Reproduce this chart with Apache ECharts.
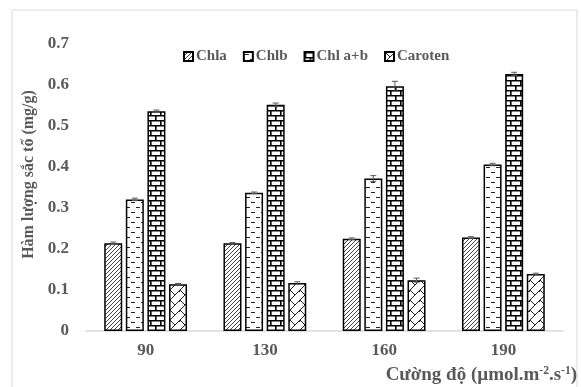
<!DOCTYPE html>
<html>
<head>
<meta charset="utf-8">
<script src="https://cdn.jsdelivr.net/npm/echarts@6/dist/echarts.min.js"></script>
<style>
html,body{margin:0;padding:0;background:#fff;}
#c{width:581px;height:387px;}
</style>
</head>
<body>
<div id="c"></div>
<script>
const categories = ['90', '130', '160', '190'];
const seriesNames = ['Chla', 'Chlb', 'Chl a+b', 'Caroten'];
const chla = [0.214, 0.214, 0.225, 0.228];
const chlb = [0.321, 0.337, 0.372, 0.406];
const chlab = [0.536, 0.552, 0.597, 0.627];
const caroten = [0.114, 0.117, 0.124, 0.139];
const errChla = [0.003, 0.002, 0.002, 0.002];
const errChlb = [0.003, 0.002, 0.007, 0.003];
const errChlab = [0.003, 0.004, 0.012, 0.004];
const errCaroten = [0.002, 0.003, 0.005, 0.002];

function mk(w, h, draw) {
  const c = document.createElement('canvas');
  c.width = w; c.height = h;
  const g = c.getContext('2d');
  g.fillStyle = '#fff'; g.fillRect(0, 0, w, h);
  g.strokeStyle = '#222'; g.lineWidth = 1;
  draw(g);
  return c;
}
const patDiag = mk(4, 4, g => {
  g.strokeStyle = '#444';
  g.beginPath();
  g.moveTo(-1, 5); g.lineTo(5, -1);
  g.moveTo(-1, 1); g.lineTo(1, -1);
  g.moveTo(3, 5); g.lineTo(5, 3);
  g.stroke();
});
const patDash = mk(10, 10, g => {
  g.strokeStyle = '#222';
  g.beginPath();
  g.moveTo(1, 2.5); g.lineTo(5, 2.5);
  g.moveTo(6, 7.5); g.lineTo(10, 7.5);
  g.stroke();
});
const patBrick = mk(10, 10, g => {
  g.strokeStyle = '#000'; g.lineWidth = 1.6;
  g.beginPath();
  g.moveTo(0, 0.8); g.lineTo(10, 0.8);
  g.moveTo(0, 5.8); g.lineTo(10, 5.8);
  g.moveTo(0.8, 0); g.lineTo(0.8, 5.8);
  g.moveTo(5.8, 5.8); g.lineTo(5.8, 10);
  g.stroke();
});
const patWeave = mk(10, 10, g => {
  g.strokeStyle = '#222'; g.lineWidth = 1;
  g.beginPath();
  g.moveTo(-1, 11); g.lineTo(11, -1);
  g.moveTo(0, 0); g.lineTo(5, 5);
  g.moveTo(9, 1); g.lineTo(10, 2);
  g.stroke();
});
const pats = [patDiag, patDash, patBrick, patWeave];
const vals = [chla, chlb, chlab, caroten];
const errs = [errChla, errChlb, errChlab, errCaroten];

const BW = 18, GAP = 0.2;
const FONT = 'Liberation Serif';
const GRAY = '#595959';

const barSeries = seriesNames.map((n, i) => ({
  name: n, type: 'bar', data: vals[i], barWidth: BW, barGap: (GAP*100)+'%',
  itemStyle: { color: { image: pats[i], repeat: 'repeat' }, borderColor: '#000', borderWidth: 1.5 },
  emphasis: { disabled: true }
}));

const errData = [];
for (let s = 0; s < 4; s++) for (let c = 0; c < 4; c++) errData.push([c, vals[s][c], errs[s][c], s]);

const errSeries = {
  type: 'custom', data: errData, z: 10, silent: true,
  encode: { x: 0, y: 1 },
  renderItem: function (params, api) {
    const c = api.value(0), v = api.value(1), e = api.value(2), s = api.value(3);
    const pitch = BW * (1 + GAP);
    const off = (s - 1.5) * pitch;
    const top = api.coord([c, v + e]);
    const bot = api.coord([c, v - e]);
    const x = top[0] + off;
    const cap = 3;
    const st = { stroke: '#595959', lineWidth: 1 };
    return { type: 'group', children: [
      { type: 'line', shape: { x1: x, y1: top[1], x2: x, y2: bot[1] }, style: st },
      { type: 'line', shape: { x1: x - cap, y1: top[1], x2: x + cap, y2: top[1] }, style: st },
      { type: 'line', shape: { x1: x - cap, y1: bot[1], x2: x + cap, y2: bot[1] }, style: st }
    ]};
  }
};

const chart = echarts.init(document.getElementById('c'), null, { renderer: 'canvas' });
chart.setOption({
  animation: false,
  backgroundColor: '#fff',
  graphic: [{ type: 'rect', shape: { x: 12, y: 10, width: 565, height: 390 }, style: { fill: 'none', stroke: '#d9d9d9', lineWidth: 1 }, silent: true }],
  legend: {
    data: seriesNames, left: 178, top: 44, itemWidth: 9, itemHeight: 9, itemGap: 16, icon: 'rect',
    textStyle: { fontFamily: FONT, fontWeight: 'bold', fontSize: 15, color: GRAY, padding: [0,0,0,-2] }
  },
  grid: { left: 86, right: 18, top: 44, bottom: 56, containLabel: false },
  xAxis: {
    type: 'category', data: categories,
    axisLine: { lineStyle: { color: '#d9d9d9', width: 1.5 } },
    axisTick: { show: false },
    axisLabel: { fontFamily: FONT, fontWeight: 'bold', fontSize: 17, color: GRAY, margin: 11 },
    name: 'Cường độ (µmol.m{sup|-2}.s{sup|-1})',
    nameLocation: 'end', nameGap: 14,
    nameTextStyle: {
      fontFamily: FONT, fontWeight: 'bold', fontSize: 19, color: GRAY,
      align: 'right', verticalAlign: 'top', padding: [34, 0, 0, 0],
      rich: { sup: { fontFamily: FONT, fontWeight: 'bold', fontSize: 11.5, color: GRAY, verticalAlign: 'top', padding: [0,0,8,0] } }
    }
  },
  yAxis: {
    type: 'value', min: 0, max: 0.7, interval: 0.1,
    splitLine: { show: false },
    axisLine: { show: false }, axisTick: { show: false },
    axisLabel: { fontFamily: FONT, fontWeight: 'bold', fontSize: 17, color: GRAY, margin: 17,
      formatter: v => (Math.round(v * 10) / 10).toString() },
    name: 'Hàm lượng sắc tố (mg/g)', nameLocation: 'middle', nameGap: 47,
    nameTextStyle: { fontFamily: FONT, fontWeight: 'bold', fontSize: 16, color: GRAY, padding: [0, 0, 0, 26] }
  },
  series: barSeries.concat([errSeries])
});
</script>
</body>
</html>
